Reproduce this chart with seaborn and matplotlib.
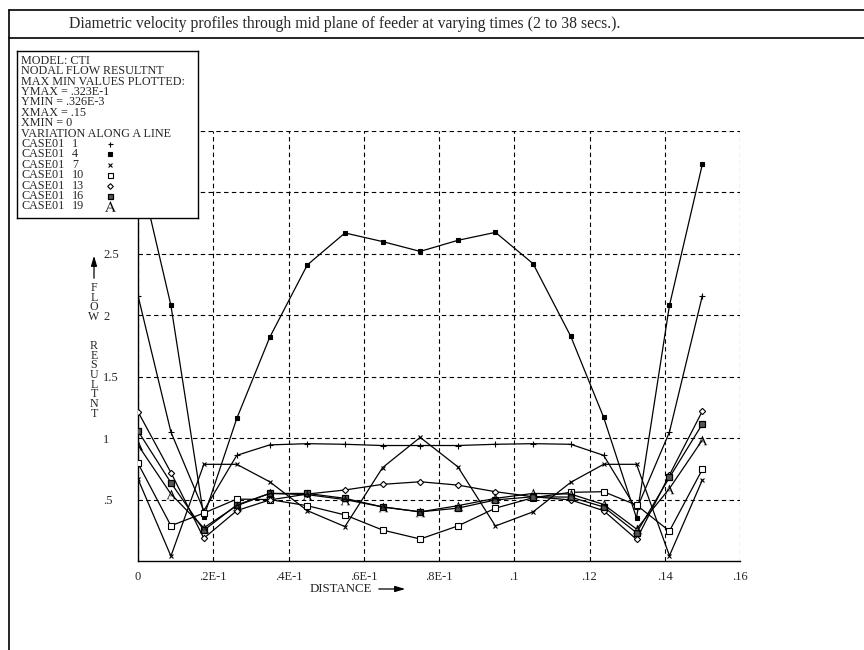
import matplotlib
matplotlib.use("Agg")
import matplotlib.pyplot as plt
import seaborn as sns
import pandas as pd
from matplotlib.lines import Line2D

# ---------------- data ----------------
distance = [0, .00875, .0175, .02625, .035, .045, .055, .065, .075,
            .085, .095, .105, .115, .12375, .1325, .14125, .15]

case_1 = [2.16, 1.05, 0.41, 0.86, 0.945, 0.955, 0.95, 0.94, 0.94,
          0.94, 0.95, 0.955, 0.95, 0.86, 0.42, 1.05, 2.16]
case_4 = [3.23, 2.08, 0.36, 1.16, 1.82, 2.41, 2.67, 2.60, 2.52,
          2.61, 2.675, 2.42, 1.83, 1.17, 0.35, 2.08, 3.23]
case_7 = [0.667, 0.04, 0.787, 0.787, 0.645, 0.41, 0.28, 0.76, 1.006,
          0.767, 0.285, 0.40, 0.64, 0.787, 0.787, 0.043, 0.66]
case_10 = [0.795, 0.287, 0.39, 0.504, 0.50, 0.45, 0.375, 0.252, 0.179,
           0.285, 0.43, 0.515, 0.559, 0.564, 0.455, 0.244, 0.746]
case_13 = [1.215, 0.72, 0.185, 0.41, 0.497, 0.545, 0.578, 0.624, 0.645,
           0.618, 0.564, 0.523, 0.497, 0.41, 0.176, 0.70, 1.22]
case_16 = [1.058, 0.637, 0.25, 0.456, 0.55, 0.55, 0.51, 0.44, 0.40,
           0.43, 0.497, 0.523, 0.52, 0.44, 0.23, 0.68, 1.115]
case_19 = [0.944, 0.545, 0.27, 0.45, 0.55, 0.54, 0.50, 0.44, 0.40,
           0.45, 0.51, 0.55, 0.545, 0.46, 0.26, 0.59, 0.985]

case_ids = ["1", "4", "7", "10", "13", "16", "19"]
series = [case_1, case_4, case_7, case_10, case_13, case_16, case_19]

x_ticks = [0, .02, .04, .06, .08, .10, .12, .14, .16]
x_tick_labels = ["0", ".2E-1", ".4E-1", ".6E-1", ".8E-1", ".1", ".12", ".14", ".16"]
y_ticks = [.5, 1, 1.5, 2, 2.5, 3, 3.5]
# labels for 3 and 3.5 are hidden behind the legend box in the reference
y_tick_labels = [".5", "1", "1.5", "2", "2.5", "", ""]

title = "Diametric velocity profiles through mid plane of feeder at varying times (2 to 38 secs.)."
header_lines = ["MODEL: CTI", "NODAL FLOW RESULTNT", "MAX MIN VALUES PLOTTED:",
                "YMAX = .323E-1", "YMIN = .326E-3", "XMAX = .15", "XMIN = 0",
                "VARIATION ALONG A LINE"]
y_label = "FLOW  RESULTNT"

# ---------------- style ----------------
sns.set_style("white")
plt.rcParams["font.family"] = ["Liberation Serif", "DejaVu Serif"]
plt.rcParams["mathtext.fontset"] = "stix"

marker_styles = {
    "1":  dict(marker="+", ms=4, mfc="black", mew=0.8),
    "4":  dict(marker="s", ms=3, mfc="black", mew=0.8),
    "7":  dict(marker="x", ms=3.5, mfc="black", mew=0.8),
    "10": dict(marker="s", ms=4, mfc="white", mew=0.8),
    "13": dict(marker="D", ms=3.2, mfc="white", mew=0.8),
    "16": dict(marker="s", ms=4, mfc="#555555", mew=0.9),
    "19": dict(marker=r"$\mathrm{A}$", ms=7, mfc="black", mew=0.0),
}

W, H = 864, 650
fig = plt.figure(figsize=(W / 100, H / 100), dpi=100)
L, R, B, T = 138, 740, 561, 131
ax = fig.add_axes([L / W, 1 - B / H, (R - L) / W, (B - T) / H])

for cid, vals in zip(case_ids, series):
    df = pd.DataFrame({"distance": distance, "value": vals})
    sns.lineplot(data=df, x="distance", y="value", ax=ax, color="black",
                 lw=0.9, mec="black", estimator=None, sort=False,
                 legend=False, zorder=3, **marker_styles[cid])

ax.set_xlim(0, 0.16)
ax.set_ylim(0, 3.5)
ax.set_xticks(x_ticks)
ax.set_xticklabels(x_tick_labels, fontsize=9)
ax.set_yticks(y_ticks)
ax.set_yticklabels(y_tick_labels, fontsize=9, ha="left")
ax.tick_params(axis="y", length=5, width=0.8, pad=20, color="black")
ax.tick_params(axis="x", length=3, width=0.8, pad=4, color="black")
ax.grid(True, color="black", ls=(0, (4, 3)), lw=0.8)
ax.set_axisbelow(True)
for s in ["top", "right"]:
    ax.spines[s].set_visible(False)
for s in ["left", "bottom"]:
    ax.spines[s].set_color("black")
    ax.spines[s].set_linewidth(1.0)
ax.set_xlabel("")
ax.set_ylabel("")

# x label with arrow
fig.text(310 / W, 1 - 589 / H, "DISTANCE", fontsize=9.3, ha="left", va="center")
ax.annotate("", xy=(408, H - 589), xytext=(376, H - 589),
            xycoords="figure pixels", textcoords="figure pixels",
            arrowprops=dict(arrowstyle="-|>,head_length=0.6,head_width=0.18",
                            color="black", lw=0.9), annotation_clip=False)

# y label: stacked letters (one text object) with arrow
stacked = "\n".join(ch if ch.strip() else " " for ch in y_label)
fig.text(94 / W, 1 - 282 / H, stacked, fontsize=8.6, ha="center", va="top",
         linespacing=0.74, multialignment="center")
ax.annotate("", xy=(94, H - 253), xytext=(94, H - 281),
            xycoords="figure pixels", textcoords="figure pixels",
            arrowprops=dict(arrowstyle="-|>,head_length=0.6,head_width=0.18",
                            color="black", lw=0.9), annotation_clip=False)

# title and frame
fig.text(69 / W, 1 - 24 / H, title, fontsize=11.3, ha="left", va="center")
for (x0, y0, x1, y1) in [(9, 10, 864, 10), (9, 38, 864, 38), (9, 10, 9, 650)]:
    fig.add_artist(Line2D([x0 / W, x1 / W], [1 - y0 / H, 1 - y1 / H],
                          transform=fig.transFigure, color="black", lw=1.2))

# legend box
bx0, by0, bx1, by1 = 17, 51, 198, 218
lax = fig.add_axes([bx0 / W, 1 - by1 / H, (bx1 - bx0) / W, (by1 - by0) / H],
                   zorder=10)
lax.set_xlim(0, bx1 - bx0)
lax.set_ylim(by1 - by0, 0)
lax.set_xticks([])
lax.set_yticks([])
lax.set_facecolor("white")
for s in lax.spines.values():
    s.set_color("black")
    s.set_linewidth(1.0)
step = 10.4
y0 = 9.8
fs = 8.7
for i, line in enumerate(header_lines):
    lax.text(4.0, y0 + i * step, line, fontsize=fs, va="center", ha="left")
for j, cid in enumerate(case_ids):
    yy = y0 + (len(header_lines) + j) * step
    lax.text(4.0, yy, "CASE01", fontsize=fs, va="center", ha="left")
    lax.text(55, yy, cid, fontsize=fs, va="center", ha="left")
    st = marker_styles[cid]
    lax.plot([93], [yy], linestyle="none", color="black", mec="black",
             marker=st["marker"], ms=st["ms"] * (0.9 if cid != "19" else 1.1),
             mfc=st["mfc"], mew=st["mew"])

fig.savefig("out.png", dpi=100)
